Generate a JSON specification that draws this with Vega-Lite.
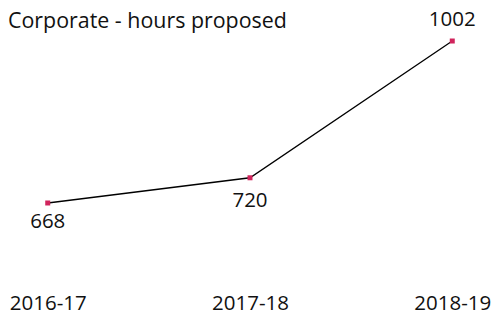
{
  "$schema": "https://vega.github.io/schema/vega-lite/v6.json",
  "autosize": "none",
  "padding": {"top": 30, "left": 0, "right": 0, "bottom": 34},
  "width": 500,
  "height": 250,
  "title": {"text": "Corporate - hours proposed", "anchor": "start", "offset": -17, "dy": 22, "baseline": "alphabetic", "dx": 8, "font": "Open Sans", "fontSize": 21.4, "fontWeight": "normal", "color": "#111"},
  "config": {"view": {"stroke": null}, "font": "Open Sans"},
  "data": {"values": [
    {"year": "2016-17", "hours": 668},
    {"year": "2017-18", "hours": 720},
    {"year": "2018-19", "hours": 1002}
  ]},
  "encoding": {
    "x": {"field": "year", "type": "ordinal", "scale": {"type": "point", "padding": 0.236},
      "axis": {"title": null, "domain": false, "ticks": false, "labelAngle": 0, "labelFont": "Open Sans", "labelFontSize": 20.5, "labelColor": "#111", "labelBaseline": "alphabetic", "labelPadding": 29}},
    "y": {"field": "hours", "type": "quantitative", "scale": {"domain": [509.2, 1024.7], "zero": false, "nice": false}, "axis": null}
  },
  "layer": [
    {"mark": {"type": "line", "color": "#000", "strokeWidth": 1.3}},
    {"mark": {"type": "square", "color": "#d0245c", "opacity": 1, "filled": true, "size": 25}},
    {"transform": [{"filter": "datum.hours === 668"}],
     "mark": {"type": "text", "baseline": "alphabetic", "dy": 25, "fontSize": 20.5, "font": "Open Sans", "color": "#111"},
     "encoding": {"text": {"field": "hours"}}},
    {"transform": [{"filter": "datum.hours === 720"}],
     "mark": {"type": "text", "baseline": "alphabetic", "dy": 29, "fontSize": 20.5, "font": "Open Sans", "color": "#111"},
     "encoding": {"text": {"field": "hours"}}},
    {"transform": [{"filter": "datum.hours === 1002"}],
     "mark": {"type": "text", "baseline": "alphabetic", "dy": -15, "fontSize": 20.5, "font": "Open Sans", "color": "#111"},
     "encoding": {"text": {"field": "hours"}}}
  ]
}
